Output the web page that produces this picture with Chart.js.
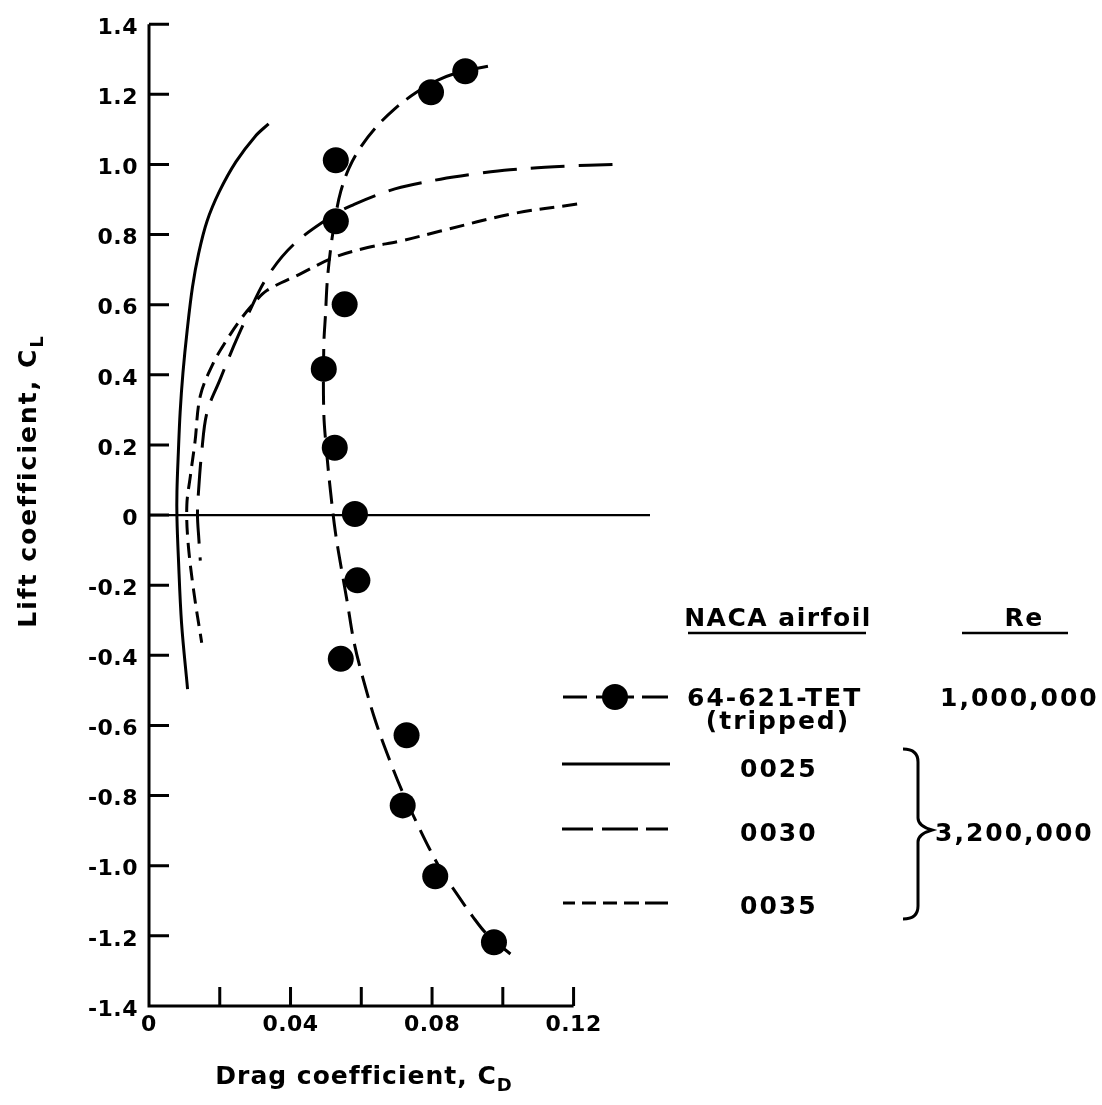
<!DOCTYPE html>
<html lang="en">
<head>
  <meta charset="utf-8">
  <title>Lift coefficient vs drag coefficient</title>
  <style>
    html, body { margin: 0; padding: 0; background: #fff; }
    #wrap { position: relative; width: 1102px; height: 1105px; }
  </style>
</head>
<body>
<div id="wrap"><canvas id="polar"></canvas></div>

<script src="https://cdn.jsdelivr.net/npm/chart.js"></script>
<script>
  // 64-621-TET (tripped), Re 1,000,000 - measured points
  const trippedCd = [0.0894, 0.0797, 0.0528, 0.0528, 0.0553, 0.0494, 0.0525, 0.0582, 0.0589, 0.0542, 0.0728, 0.0717, 0.0809, 0.0975];
  const trippedCl = [1.266, 1.206, 1.012, 0.838, 0.601, 0.417, 0.192, 0.003, -0.186, -0.410, -0.628, -0.828, -1.030, -1.218];

  // faired curve through the tripped points
  const trippedFitCd = [0.0958, 0.0883, 0.0815, 0.0755, 0.0696, 0.0638, 0.0596, 0.0565, 0.0542, 0.0528, 0.0514, 0.0504, 0.0499, 0.0494, 0.0494, 0.0502, 0.0513, 0.0527, 0.0545, 0.0561, 0.0579, 0.0603, 0.0641, 0.0689, 0.0721, 0.0758, 0.0792, 0.0830, 0.0870, 0.0915, 0.0955, 0.1029];
  const trippedFitCl = [1.280, 1.265, 1.240, 1.205, 1.160, 1.102, 1.046, 0.989, 0.923, 0.857, 0.764, 0.669, 0.575, 0.481, 0.293, 0.180, 0.068, -0.050, -0.160, -0.252, -0.360, -0.459, -0.590, -0.722, -0.800, -0.880, -0.950, -1.020, -1.080, -1.145, -1.195, -1.258];

  // NACA 0025, Re 3,200,000
  const naca0025Cd = [0.0338, 0.0300, 0.0246, 0.0199, 0.0164, 0.0140, 0.0123, 0.0108, 0.0096, 0.0088, 0.0083, 0.0079, 0.0079, 0.0083, 0.0092, 0.0109];
  const naca0025Cl = [1.116, 1.080, 1.008, 0.923, 0.838, 0.745, 0.651, 0.528, 0.406, 0.293, 0.180, 0.068, -0.008, -0.120, -0.308, -0.496];

  // NACA 0030, Re 3,200,000
  const naca0030Cd = [0.1310, 0.1175, 0.1020, 0.0922, 0.0824, 0.0712, 0.0650, 0.0580, 0.0523, 0.0410, 0.0334, 0.0277, 0.0239, 0.0201, 0.0164, 0.0149, 0.0140, 0.0137, 0.0141, 0.0145];
  const naca0030Cl = [1.000, 0.995, 0.985, 0.973, 0.958, 0.935, 0.915, 0.886, 0.857, 0.773, 0.679, 0.566, 0.481, 0.387, 0.293, 0.180, 0.068, 0.000, -0.070, -0.130];

  // NACA 0035, Re 3,200,000
  const naca0035Cd = [0.1210, 0.1030, 0.0824, 0.0712, 0.0618, 0.0523, 0.0428, 0.0334, 0.0296, 0.0258, 0.0220, 0.0182, 0.0145, 0.0130, 0.0117, 0.0107, 0.0110, 0.0126, 0.0149];
  const naca0035Cl = [0.887, 0.860, 0.810, 0.782, 0.763, 0.735, 0.688, 0.641, 0.604, 0.557, 0.500, 0.434, 0.340, 0.209, 0.112, 0.030, -0.073, -0.214, -0.364];

  // zero-lift reference line
  const zeroLineCd = [0, 0.1416];
  const zeroLineCl = [0, 0];

  // axes
  const xMin = 0, xMax = 0.1416, xAxisEnd = 0.12, xStep = 0.02;
  const xLabelled = [0, 0.04, 0.08, 0.12];
  const yMin = -1.4, yMax = 1.4, yStep = 0.2;

  const FONT = '"DejaVu Sans", sans-serif';

  function pts(xs, ys) {
    return xs.map((x, i) => ({ x: x, y: ys[i] }));
  }

  function curve(xs, ys, dash) {
    return {
      data: pts(xs, ys),
      showLine: true,
      borderColor: '#000',
      borderWidth: 3,
      borderDash: dash,
      pointRadius: 0,
      tension: 0.35,
      fill: false
    };
  }

  // draw "main" followed by a subscript, centred on cx
  function subText(ctx, main, sub, cx, base, size, subSize, drop) {
    ctx.font = 'bold ' + size + 'px ' + FONT;
    const w1 = ctx.measureText(main).width;
    ctx.font = 'bold ' + subSize + 'px ' + FONT;
    const w2 = ctx.measureText(sub).width;
    const start = cx - (w1 + w2) / 2;
    ctx.font = 'bold ' + size + 'px ' + FONT;
    ctx.fillText(main, start, base);
    ctx.font = 'bold ' + subSize + 'px ' + FONT;
    ctx.fillText(sub, start + w1, base + drop);
  }

  function dashedRow(ctx, segs, y) {
    ctx.beginPath();
    segs.forEach(s => { ctx.moveTo(s[0], y); ctx.lineTo(s[1], y); });
    ctx.stroke();
  }

  const framePlugin = {
    id: 'frame',
    beforeDraw(chart) {
      // spacing for the library's tick labels
      chart.ctx.letterSpacing = '0.5px';
    },
    afterDraw(chart) {
      const ctx = chart.ctx;
      const xs = chart.scales.x, ys = chart.scales.y;
      const x0 = xs.getPixelForValue(0);
      const yTop = ys.getPixelForValue(yMax);
      const yBot = ys.getPixelForValue(yMin);
      const xEnd = xs.getPixelForValue(xAxisEnd);

      ctx.save();
      ctx.strokeStyle = '#000';
      ctx.fillStyle = '#000';
      ctx.lineWidth = 3;
      ctx.lineCap = 'butt';

      // axis lines
      ctx.beginPath();
      ctx.moveTo(x0, yTop);
      ctx.lineTo(x0, yBot);
      ctx.lineTo(xEnd, yBot);
      ctx.stroke();

      // y ticks (inside)
      ctx.beginPath();
      for (let v = yMin + yStep; v <= yMax + 1e-9; v += yStep) {
        const py = ys.getPixelForValue(v);
        ctx.moveTo(x0, py);
        ctx.lineTo(x0 + 20, py);
      }
      // x ticks (inside)
      for (let v = xStep; v <= xAxisEnd + 1e-9; v += xStep) {
        const px = xs.getPixelForValue(v);
        ctx.moveTo(px, yBot);
        ctx.lineTo(px, yBot - 19);
      }
      ctx.stroke();

      // axis titles
      ctx.textAlign = 'left';
      ctx.textBaseline = 'alphabetic';
      ctx.letterSpacing = '1px';
      subText(ctx, 'Drag coefficient, C', 'D', 364, 1084, 25, 18, 7);
      ctx.save();
      ctx.letterSpacing = '2px';
      ctx.translate(36, 481);
      ctx.rotate(-Math.PI / 2);
      subText(ctx, 'Lift coefficient, C', 'L', 0, 0, 25, 18, 7);
      ctx.restore();

      // legend
      ctx.font = 'bold 25px ' + FONT;
      ctx.letterSpacing = '1.5px';
      ctx.textAlign = 'center';
      ctx.fillText('NACA airfoil', 778, 626);
      ctx.fillText('Re', 1024, 626);
      ctx.lineWidth = 2.5;
      ctx.beginPath();
      ctx.moveTo(688, 633); ctx.lineTo(866, 633);
      ctx.moveTo(962, 633); ctx.lineTo(1068, 633);
      ctx.stroke();

      ctx.letterSpacing = '2px';
      ctx.textAlign = 'left';
      ctx.fillText('64-621-TET', 687, 706);
      ctx.fillText('1,000,000', 940, 706);
      ctx.textAlign = 'center';
      ctx.fillText('(tripped)', 778, 729);
      ctx.textAlign = 'left';
      ctx.fillText('0025', 740, 777);
      ctx.fillText('0030', 740, 841);
      ctx.fillText('0035', 740, 914);
      ctx.fillText('3,200,000', 935, 841);

      // legend samples
      ctx.lineWidth = 3;
      dashedRow(ctx, [[563, 587], [596, 634], [642, 668]], 697);
      ctx.beginPath();
      ctx.arc(615, 697, 13, 0, Math.PI * 2);
      ctx.fill();
      dashedRow(ctx, [[562, 670]], 764);
      dashedRow(ctx, [[562, 593], [602, 638], [646, 668]], 829);
      dashedRow(ctx, [[563, 575], [582, 596], [603, 617], [624, 639], [645, 668]], 903);

      // brace
      ctx.lineWidth = 3;
      ctx.beginPath();
      ctx.moveTo(903, 749);
      ctx.quadraticCurveTo(918, 749, 918, 762);
      ctx.lineTo(918, 818);
      ctx.quadraticCurveTo(918, 826, 932, 830);
      ctx.quadraticCurveTo(918, 834, 918, 842);
      ctx.lineTo(918, 906);
      ctx.quadraticCurveTo(918, 919, 903, 919);
      ctx.stroke();

      ctx.restore();
    }
  };

  const ctx = document.getElementById('polar').getContext('2d');
  new Chart(ctx, {
    type: 'scatter',
    data: {
      datasets: [
        Object.assign(curve(zeroLineCd, zeroLineCl, []), { tension: 0, borderWidth: 2.4 }),
        curve(trippedFitCd, trippedFitCl, [23, 10]),
        curve(naca0025Cd, naca0025Cl, []),
        curve(naca0030Cd, naca0030Cl, [34, 14]),
        curve(naca0035Cd, naca0035Cl, [15, 8]),
        {
          data: pts(trippedCd, trippedCl),
          showLine: false,
          pointRadius: 13,
          pointBackgroundColor: '#000',
          pointBorderWidth: 0
        }
      ]
    },
    options: {
      responsive: true,
      maintainAspectRatio: false,
      animation: false,
      layout: { padding: { left: 0, top: 12, right: 452, bottom: 0 } },
      plugins: { legend: { display: false }, tooltip: { enabled: false } },
      scales: {
        x: {
          type: 'linear',
          min: xMin,
          max: xMax,
          grid: { display: false, drawTicks: false },
          border: { display: false },
          afterFit: s => { s.height = 99; },
          ticks: {
            stepSize: xStep,
            padding: 6,
            maxRotation: 0,
            autoSkip: false,
            color: '#000',
            font: { family: FONT, size: 22, weight: 'bold' },
            callback: v => xLabelled.some(t => Math.abs(t - v) < 1e-6) ? (v === 0 ? '0' : v.toFixed(2)) : ''
          }
        },
        y: {
          type: 'linear',
          min: yMin,
          max: yMax,
          grid: { display: false, drawTicks: false },
          border: { display: false },
          afterFit: s => { s.width = 149; },
          ticks: {
            stepSize: yStep,
            padding: 11,
            labelOffset: 4,
            autoSkip: false,
            color: '#000',
            font: { family: FONT, size: 22, weight: 'bold' },
            callback: v => Math.abs(v) < 1e-9 ? '0' : v.toFixed(1)
          }
        }
      }
    },
    plugins: [framePlugin]
  });
</script>
</body>
</html>
